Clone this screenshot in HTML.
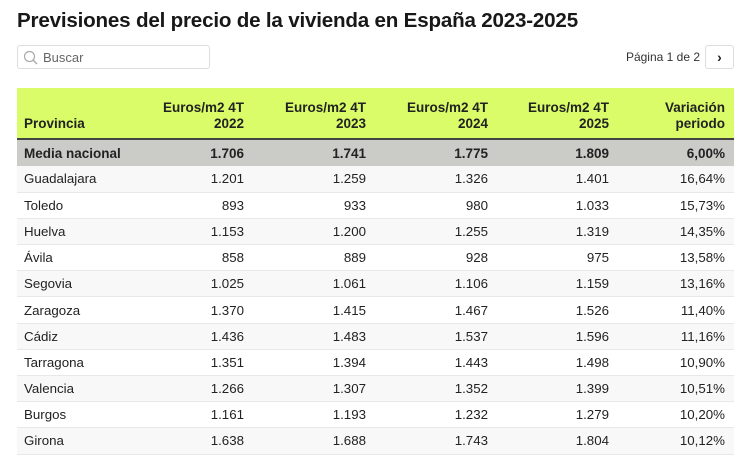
<!DOCTYPE html>
<html><head><meta charset="utf-8"><style>
*{margin:0;padding:0;box-sizing:border-box}
body{width:750px;height:462px;background:#fff;font-family:"Liberation Sans",Arial,sans-serif;color:#222;position:relative;overflow:hidden}
h1{position:absolute;left:17px;top:9px;font-size:20.6px;font-weight:bold;color:#181818;letter-spacing:-0.2px;white-space:nowrap}
.search{position:absolute;left:17px;top:45px;width:193px;height:24px;border:1px solid #ddd;border-radius:3px}
.search span{position:absolute;left:25px;top:4px;font-size:13px;color:#666}
.pg{position:absolute;right:50px;top:50px;font-size:12px;color:#333}
.btn{position:absolute;left:705px;top:45px;width:29px;height:24px;border:1px solid #ddd;border-radius:3px;text-align:center;font-size:14px;font-weight:bold;line-height:22px}
table{position:absolute;left:17px;top:88px;border-collapse:collapse;width:717px;font-size:13.3px}
th{background:#d9fc68;height:51px;vertical-align:bottom;text-align:right;padding:0 9px 6px 7px;font-size:13.5px;font-weight:bold;line-height:16px;border-bottom:2px solid #444;color:#222}
th:first-child{text-align:left}
td{height:26.2px;text-align:right;padding:0 9px 0 7px;border-bottom:1px solid #e8e8e8}
td:first-child{text-align:left}
tr.m td{background:#cbccc8;font-weight:bold;font-size:13.5px;border-bottom:none;height:27px}
tr.o td{background:#f8f8f8}
</style></head><body>
<h1>Previsiones del precio de la vivienda en España 2023-2025</h1>
<div class="search"><svg width="16" height="16" style="position:absolute;left:5px;top:4px"><circle cx="6.5" cy="6.5" r="5" fill="none" stroke="#aaa" stroke-width="1.2"/><line x1="10" y1="10" x2="14" y2="14" stroke="#aaa" stroke-width="1.4"/></svg><span>Buscar</span></div>
<div class="pg">Página 1 de 2</div>
<div class="btn">&#8250;</div>
<table>
<colgroup><col style="width:114px"><col style="width:122px"><col style="width:122px"><col style="width:122px"><col style="width:121px"><col style="width:116px"></colgroup>
<tr><th>Provincia</th><th>Euros/m2 4T<br>2022</th><th>Euros/m2 4T<br>2023</th><th>Euros/m2 4T<br>2024</th><th>Euros/m2 4T<br>2025</th><th>Variación<br>periodo</th></tr>
<tr class="m"><td>Media nacional</td><td>1.706</td><td>1.741</td><td>1.775</td><td>1.809</td><td>6,00%</td></tr>
<tr class="o"><td>Guadalajara</td><td>1.201</td><td>1.259</td><td>1.326</td><td>1.401</td><td>16,64%</td></tr>
<tr><td>Toledo</td><td>893</td><td>933</td><td>980</td><td>1.033</td><td>15,73%</td></tr>
<tr class="o"><td>Huelva</td><td>1.153</td><td>1.200</td><td>1.255</td><td>1.319</td><td>14,35%</td></tr>
<tr><td>Ávila</td><td>858</td><td>889</td><td>928</td><td>975</td><td>13,58%</td></tr>
<tr class="o"><td>Segovia</td><td>1.025</td><td>1.061</td><td>1.106</td><td>1.159</td><td>13,16%</td></tr>
<tr><td>Zaragoza</td><td>1.370</td><td>1.415</td><td>1.467</td><td>1.526</td><td>11,40%</td></tr>
<tr class="o"><td>Cádiz</td><td>1.436</td><td>1.483</td><td>1.537</td><td>1.596</td><td>11,16%</td></tr>
<tr><td>Tarragona</td><td>1.351</td><td>1.394</td><td>1.443</td><td>1.498</td><td>10,90%</td></tr>
<tr class="o"><td>Valencia</td><td>1.266</td><td>1.307</td><td>1.352</td><td>1.399</td><td>10,51%</td></tr>
<tr><td>Burgos</td><td>1.161</td><td>1.193</td><td>1.232</td><td>1.279</td><td>10,20%</td></tr>
<tr class="o"><td>Girona</td><td>1.638</td><td>1.688</td><td>1.743</td><td>1.804</td><td>10,12%</td></tr>
</table>
</body></html>
